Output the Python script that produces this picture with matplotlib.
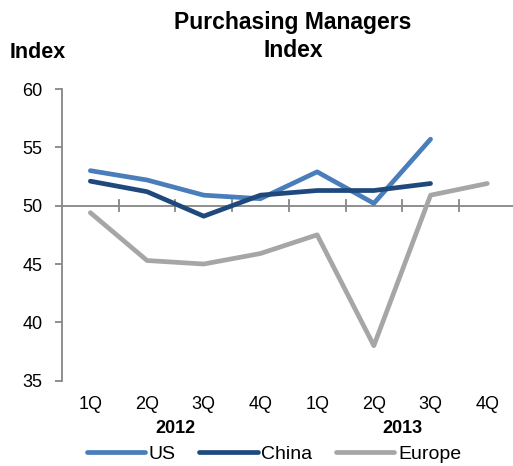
import matplotlib
matplotlib.use("Agg")
import matplotlib.pyplot as plt
from matplotlib.transforms import blended_transform_factory

plt.rcParams['font.family'] = ['Liberation Sans', 'DejaVu Sans']

quarters = ["1Q", "2Q", "3Q", "4Q", "1Q", "2Q", "3Q", "4Q"]
years = ["2012", "2013"]
us = [53.0, 52.2, 50.9, 50.6, 52.9, 50.2, 55.7]
china = [52.1, 51.2, 49.1, 50.9, 51.3, 51.3, 51.9]
europe = [49.4, 45.3, 45.0, 45.9, 47.5, 38.0, 50.9, 51.9]

c_us = "#4a7ebb"
c_china = "#1f497d"
c_eu = "#a6a6a6"
c_axis = "#868686"

fig = plt.figure(figsize=(5.13, 4.66), dpi=100)
ax = fig.add_axes([62/513, 1-380.7/466, 453.6/513, (380.7-89)/466])

lw = 3.4
ax.plot(range(len(us)), us, color=c_us, lw=lw, solid_capstyle='round', solid_joinstyle='round', label="US", zorder=3)
ax.plot(range(len(china)), china, color=c_china, lw=lw, solid_capstyle='round', solid_joinstyle='round', label="China", zorder=4)
ax.plot(range(len(europe)), europe, color=c_eu, lw=lw, solid_capstyle='round', solid_joinstyle='round', label="Europe", zorder=2)

ax.set_xlim(-0.5, len(quarters) - 0.5)
ax.set_ylim(35, 60)
ax.set_yticks([35, 40, 45, 50, 55, 60])

# horizontal axis at 50 with crossing ticks at category boundaries
ax.axhline(50, color=c_axis, lw=1.3, zorder=1)
for b in [i + 0.5 for i in range(len(quarters) - 1)]:
    ax.plot([b, b], [50 - 0.45, 50 + 0.45], color=c_axis, lw=1.3, zorder=1)

for s in ['top', 'right', 'bottom']:
    ax.spines[s].set_visible(False)
ax.spines['left'].set_color(c_axis)
ax.spines['left'].set_linewidth(1.3)
ax.tick_params(axis='y', direction='out', length=5, width=1.3, color=c_axis,
               labelsize=13, pad=9)
ax.set_xticks(range(len(quarters)))
ax.set_xticklabels(quarters)
ax.tick_params(axis='x', length=0, labelsize=13, pad=11)

ytrans = blended_transform_factory(ax.transData, fig.transFigure)
ax.text(1.5, 1-433/466, years[0], transform=ytrans, ha='center', va='baseline',
        fontsize=13, fontweight='bold')
ax.text(5.5, 1-433/466, years[1], transform=ytrans, ha='center', va='baseline',
        fontsize=13, fontweight='bold')

fig.text(293/513, 1-28.5/466, "Purchasing Managers", ha='center', va='baseline',
         fontsize=16.5, fontweight='bold')
fig.text(293/513, 1-57/466, "Index", ha='center', va='baseline',
         fontsize=16.5, fontweight='bold')
fig.text(10/513, 1-58.3/466, "Index", ha='left', va='baseline',
         fontsize=15.5, fontweight='bold')

fig.legend(loc='center', bbox_to_anchor=(274/513, 1-454/466), ncol=3,
           frameon=False, fontsize=14, handlelength=3.0, handletextpad=0.2,
           columnspacing=1.2, borderaxespad=0, borderpad=0)

fig.savefig("out.png", dpi=100)
